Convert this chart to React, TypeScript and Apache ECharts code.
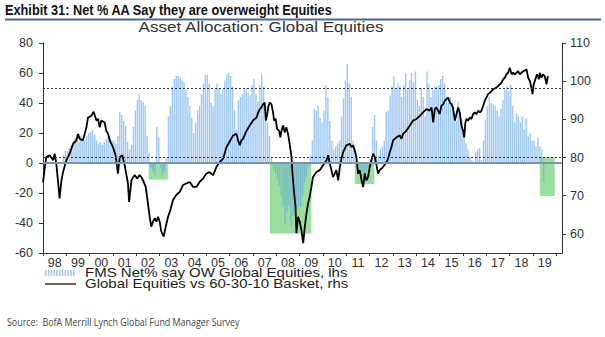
import React, { useEffect, useRef } from "react";
import * as echarts from "echarts";

const TITLE = "Exhibit 31: Net % AA Say they are overweight Equities";
const SUBTITLE = "Asset Allocation: Global Equities";
const SOURCE = "Source:  BofA Merrill Lynch Global Fund Manager Survey";
const LEGEND_BARS = "FMS Net% say OW Global Equities, lhs";
const LEGEND_LINE = "Global Equities vs 60-30-10 Basket, rhs";

const firstYear = 1998;
const yearLabels = ["98", "99", "00", "01", "02", "03", "04", "05", "06", "07", "08", "09", "10", "11", "12", "13", "14", "15", "16", "17", "18", "19"];
const rhsTicks = [60, 70, 80, 90, 100, 110];

// FMS monthly net % overweight global equities, starting Nov 1998
const fmsStartYear = 1998;
const fmsStartMonth = 10;
const fmsNetOW = [
  5, 8,
  8, 10, 12, 15, 17, 16, 14, 18, 17, 15, 18, 20,
  21, 22, 19, 15, 13, 14, 12, 14, 16, 18, 17, 15,
  15, 13, 18, 34, 32, 28, 25, 14, 9, 12, 24, 35,
  42, 46, 42, 41, 38, 18, 7, -3, -6, -8, 24, 17,
  -3, -8, -6, 3, 31, 38, 51, 56, 58, 58, 57, 55,
  54, 49, 44, 38, 30, 20, 27, 35, 38, 46, 53, 59,
  59, 53, 40, 38, 49, 53, 50, 46, 49, 55, 59, 60,
  58, 51, 35, 22, 42, 44, 46, 49, 50, 47, 45, 52,
  56, 46, 41, 52, 59, 51, 38, 27, 18, 4, -4, -7,
  -11, -15, -22, -29, -41, -33, -29, -42, -35, -31, -31, -29,
  -29, -22, -13, -9, -2, 5, 15, 36, 35, 38, 30, 27,
  35, 52, 44, 28, 15, 9, 11, 13, 15, 31, 43, 55,
  66, 53, 44, 15, 9, 2, -4, -8, -12, -10, -6, -4,
  -3, 24, 32, 15, 5, 9, 11, 15, 34, 35, 45, 51,
  58, 49, 53, 51, 44, 52, 60, 49, 55, 60, 54, 61,
  42, 38, 50, 44, 31, 61, 53, 44, 49, 51, 51, 52,
  56, 58, 53, 45, 40, 44, 40, 33, 28, 41, 33, 29,
  20, 13, 9, 4, 2, 1, 7, 9, 10, 2, 15, 29,
  38, 44, 40, 39, 38, 35, 31, 36, 42, 49, 51, 48,
  52, 38, 27, 33, 31, 27, 31, 22, 30, 18, 20, 15,
  15, 11, 17, 11, 9, -13,
];

// Global equities vs 60-30-10 basket (rhs)
const basketDates = [
  1998.0, 1998.07, 1998.14, 1998.29, 1998.43, 1998.5, 1998.57, 1998.64, 1998.71, 1998.79, 1998.86,
  1999.0, 1999.14, 1999.29, 1999.43, 1999.5, 1999.57, 1999.71, 1999.86, 1999.93,
  2000.07, 2000.17, 2000.29, 2000.36, 2000.43, 2000.5, 2000.64, 2000.71, 2000.79, 2000.86,
  2001.0, 2001.11, 2001.21, 2001.29, 2001.4, 2001.5, 2001.64, 2001.69, 2001.79, 2001.86, 2001.93,
  2002.03, 2002.14, 2002.21, 2002.29, 2002.4, 2002.46, 2002.57, 2002.64, 2002.71, 2002.79, 2002.86, 2002.93,
  2003.0, 2003.07, 2003.17, 2003.26, 2003.36, 2003.46, 2003.57, 2003.71, 2003.86,
  2004.0, 2004.14, 2004.29, 2004.43, 2004.57, 2004.71, 2004.86,
  2005.0, 2005.14, 2005.29, 2005.43, 2005.57, 2005.72, 2005.86,
  2006.0, 2006.15, 2006.29, 2006.36, 2006.43, 2006.5, 2006.57, 2006.72, 2006.86,
  2007.0, 2007.07, 2007.15, 2007.22, 2007.29, 2007.36, 2007.43, 2007.5, 2007.55, 2007.6, 2007.66, 2007.72, 2007.79, 2007.86, 2007.9, 2007.97,
  2008.03, 2008.12, 2008.17, 2008.22, 2008.29, 2008.36, 2008.43, 2008.5, 2008.57, 2008.65, 2008.69, 2008.75, 2008.82, 2008.86, 2008.93,
  2009.0, 2009.07, 2009.15, 2009.22, 2009.29, 2009.36, 2009.43, 2009.5, 2009.57, 2009.72, 2009.86,
  2010.0, 2010.15, 2010.22, 2010.29, 2010.36, 2010.43, 2010.5, 2010.57, 2010.65, 2010.72, 2010.79, 2010.86, 2010.93,
  2011.0, 2011.15, 2011.22, 2011.29, 2011.36, 2011.43, 2011.5, 2011.57, 2011.65, 2011.72, 2011.79, 2011.86, 2011.93,
  2012.0, 2012.07, 2012.15, 2012.22, 2012.29, 2012.36, 2012.43, 2012.57, 2012.72, 2012.79, 2012.86, 2012.93,
  2013.0, 2013.15, 2013.29, 2013.36, 2013.43, 2013.57, 2013.72, 2013.86,
  2014.0, 2014.15, 2014.29, 2014.43, 2014.57, 2014.65, 2014.72, 2014.79, 2014.86, 2014.93,
  2015.0, 2015.07, 2015.15, 2015.22, 2015.29, 2015.36, 2015.43, 2015.5, 2015.57, 2015.65, 2015.72, 2015.79, 2015.86, 2015.93,
  2016.0, 2016.05, 2016.1, 2016.15, 2016.22, 2016.29, 2016.36, 2016.43, 2016.5, 2016.58, 2016.65, 2016.72, 2016.79, 2016.86, 2016.93,
  2017.0, 2017.07, 2017.15, 2017.22, 2017.29, 2017.43, 2017.5, 2017.58, 2017.65, 2017.72, 2017.79, 2017.86, 2017.93,
  2018.0, 2018.08, 2018.15, 2018.22, 2018.29, 2018.36, 2018.43, 2018.5, 2018.58, 2018.65, 2018.72, 2018.79, 2018.86, 2018.93, 2018.975,
  2019.03, 2019.12, 2019.17, 2019.25, 2019.29, 2019.36, 2019.43, 2019.5, 2019.58, 2019.62, 2019.65,
];
const basketValues = [
  73.5, 77, 80.1, 80.6, 79.3, 81, 78.4, 74, 69.3, 74, 76.2,
  79.3, 81, 83.6, 84.5, 86.2, 84.9, 84.5, 87.9, 90.5,
  90.9, 92, 89.7, 90.1, 87.9, 89.7, 89.2, 87, 86.2, 84.5,
  82.7, 80.6, 75.8, 80.1, 80.6, 78, 73.2, 68.4, 74, 74.9, 75.4,
  74.5, 75.4, 74.9, 74, 72.3, 69.7, 64.5, 61.9, 63.2, 64.1, 63.2, 64.5,
  63.2, 60.6, 59.3, 61.9, 64.5, 66.3, 68.9, 70.2, 71,
  72.8, 73.2, 73.6, 72.3, 72.3, 73.6, 74.5,
  75.8, 76.2, 75.4, 77.5, 78.8, 79.7, 82.7,
  84.2, 85.8, 86.2, 84.5, 83.2, 84.5, 84.9, 87, 88.4,
  89.7, 90.1, 90.5, 91.8, 92.7, 93.1, 94, 94.4, 89.7, 91, 93.5, 94.4, 94, 91.8, 89.7, 90.1,
  87.5, 87, 85.3, 87, 88.4, 86.6, 87.9, 86.2, 83.6, 80.1, 75.8, 71.5, 67.1, 60.2, 64.5,
  63.2, 61.1, 57.6, 61.9, 65.4, 68, 69.7, 72.3, 74.9, 76.2, 76.7,
  78, 79.3, 80.6, 78.4, 76.7, 74.9, 75.8, 76.7, 74, 77.5, 79.7, 81.4, 82.3,
  83.2, 83.6, 82.7, 83.2, 81.9, 80.1, 75.8, 76.7, 74, 72.3, 75.8, 74, 74.9,
  77.5, 79.3, 81, 80.1, 78, 75.8, 76.7, 77.5, 78.8, 79.7, 81.4, 82.7,
  84.5, 85.3, 85.8, 84.9, 86.2, 87, 88.4, 89.7,
  90.1, 90.9, 91.8, 92.7, 92.3, 93.1, 89.2, 92.7, 93.1, 92.3,
  91.4, 93.5, 94, 94.9, 95.3, 95.7, 94.4, 94, 93.1, 89.7, 91.4, 93.1, 91.8, 88.4,
  87, 85.3, 89.2, 90.1, 89.7, 90.5, 90.1, 91.4, 91.8, 91.4, 92.3, 91.8, 92.3, 93.5, 94.9,
  95.7, 96.6, 97, 97.4, 97.9, 98.3, 98.7, 99.2, 99.6, 100.5, 100.9, 101.8, 102.2,
  103.5, 101.8, 102.2, 101.8, 102.2, 102.6, 101.8, 102.2, 102.6, 102.8, 103.1, 100.9, 100.1, 98.3, 96.6,
  99.2, 100.9, 101.8, 100.5, 102.2, 100.9, 101.8, 101.3, 99.2, 100.9, 101.3,
];

// Shaded underweight periods (lhs units)
const zoneStart = [2002.53, 2007.72, 2011.36, 2019.29];
const zoneEnd = [2003.35, 2009.5, 2012.2, 2019.93];
const zoneTop = [0, 0, 0, 4];
const zoneBottom = [-11, -47, -14, -22];
const lhsThreshold = 50;
const rhsThreshold = 80;

const SANS = "'Liberation Sans', Arial, sans-serif";

function label(text: string, x: number, y: number, font: string, fill: string, align: string, scaleX = 1) {
  return {
    type: "text",
    x,
    y,
    scaleX,
    style: {
      text,
      font,
      fill,
      textAlign: align,
      textVerticalAlign: "middle",
      align,
      verticalAlign: "middle",
    },
  };
}

export default function App() {
  const ref = useRef<HTMLDivElement>(null);

  useEffect(() => {
    if (!ref.current) return;
    const chart = echarts.init(ref.current, undefined, { renderer: "svg" });

    const barData = fmsNetOW.map((v, i) => [fmsStartYear + (fmsStartMonth + i + 0.5) / 12, v]);
    const lineData = basketDates.map((d, i) => [d, basketValues[i]]);
    const zones = zoneStart.map((s, i) => [
      { xAxis: s, yAxis: zoneTop[i] },
      { xAxis: zoneEnd[i], yAxis: zoneBottom[i] },
    ]);
    const yearTicks = [...yearLabels.map((_, i) => firstYear + i), firstYear + yearLabels.length];
    const yearLabelPos = yearLabels.map((_, i) => firstYear + i + 0.5);

    const stripes: any[] = [];
    for (let k = 0; k < 11; k++) {
      stripes.push({
        type: "rect",
        shape: { x: 45 + k * 2.8, y: 270, width: 1.5, height: 6 },
        style: { fill: "#9ec6ee" },
      });
    }

    chart.setOption({
      animation: false,
      backgroundColor: "#ffffff",
      grid: { left: 43, right: 43, top: 43, bottom: 84 },
      xAxis: {
        type: "value",
        min: 1998,
        max: 2020.24,
        axisLine: { show: true, onZero: false, lineStyle: { color: "#333", width: 1 } },
        axisTick: { show: true, length: 3, customValues: yearTicks, lineStyle: { color: "#333" } },
        axisLabel: {
          customValues: yearLabelPos,
          formatter: (v: number) => yearLabels[Math.round(v - 0.5) - firstYear] ?? "",
          color: "#333",
          fontSize: 12.5,
          fontFamily: SANS,
          margin: 3,
        },
        splitLine: { show: false },
      },
      yAxis: [
        {
          type: "value",
          min: -60,
          max: 80,
          interval: 20,
          position: "left",
          axisLine: { show: true, onZero: false, lineStyle: { color: "#333", width: 1 } },
          axisTick: { show: true, length: 4, lineStyle: { color: "#333" } },
          axisLabel: { color: "#333", fontSize: 12.5, fontFamily: SANS, margin: 10 },
          splitLine: { show: false },
        },
        {
          type: "value",
          min: 55,
          max: 110,
          interval: 5,
          position: "right",
          alignTicks: false,
          axisLine: { show: true, onZero: false, lineStyle: { color: "#333", width: 1 } },
          axisTick: { show: true, length: 4, customValues: rhsTicks, lineStyle: { color: "#333" } },
          axisLabel: { customValues: rhsTicks, color: "#333", fontSize: 12.5, fontFamily: SANS, margin: 8 },
          splitLine: { show: false },
        },
      ],
      series: [
        {
          name: "zones",
          type: "line",
          data: [],
          xAxisIndex: 0,
          yAxisIndex: 0,
          z: 1,
          silent: true,
          markArea: {
            silent: true,
            itemStyle: { color: "#9bdfa0" },
            data: zones,
          },
          markLine: {
            silent: true,
            symbol: "none",
            label: { show: false },
            data: [
              { yAxis: 0, lineStyle: { type: "solid", color: "#7f93a6", width: 2 } },
              { yAxis: lhsThreshold, lineStyle: { type: [2, 2], color: "#333", width: 1 } },
            ],
          },
        },
        {
          name: LEGEND_BARS,
          type: "bar",
          data: barData,
          xAxisIndex: 0,
          yAxisIndex: 0,
          barWidth: 1.4,
          z: 2,
          itemStyle: { color: "rgba(100,165,230,0.62)" },
        },
        {
          name: LEGEND_LINE,
          type: "line",
          data: lineData,
          xAxisIndex: 0,
          yAxisIndex: 1,
          showSymbol: false,
          z: 3,
          lineStyle: { color: "#000", width: 1.8 },
          markLine: {
            silent: true,
            symbol: "none",
            label: { show: false },
            data: [{ yAxis: rhsThreshold, lineStyle: { type: [2, 2], color: "#333", width: 1 } }],
          },
        },
      ],
      graphic: [
        label(TITLE, 5, 10, "bold 15px 'Liberation Sans', Arial, sans-serif", "#111", "left", 0.85),
        {
          type: "line",
          shape: { x1: 5, y1: 19.5, x2: 601, y2: 19.5 },
          style: { stroke: "#4e6a88", lineWidth: 2 },
        },
        label(SUBTITLE, 261, 27, `14px ${SANS}`, "#333", "center", 1.22),
        ...stripes,
        {
          type: "line",
          shape: { x1: 45, y1: 284, x2: 76, y2: 284 },
          style: { stroke: "#000", lineWidth: 1.2 },
        },
        label(LEGEND_BARS, 85, 273, `12.5px ${SANS}`, "#222", "left", 1.2),
        label(LEGEND_LINE, 85, 284, `12.5px ${SANS}`, "#222", "left", 1.2),
        label(SOURCE, 7, 322, "10px 'Open Sans', sans-serif", "#444", "left", 0.89),
      ],
    });

    return () => chart.dispose();
  }, []);

  return (
    <div
      ref={ref}
      style={{ width: 605, height: 337, position: "absolute", left: 0, top: 0, background: "#fff" }}
    />
  );
}
